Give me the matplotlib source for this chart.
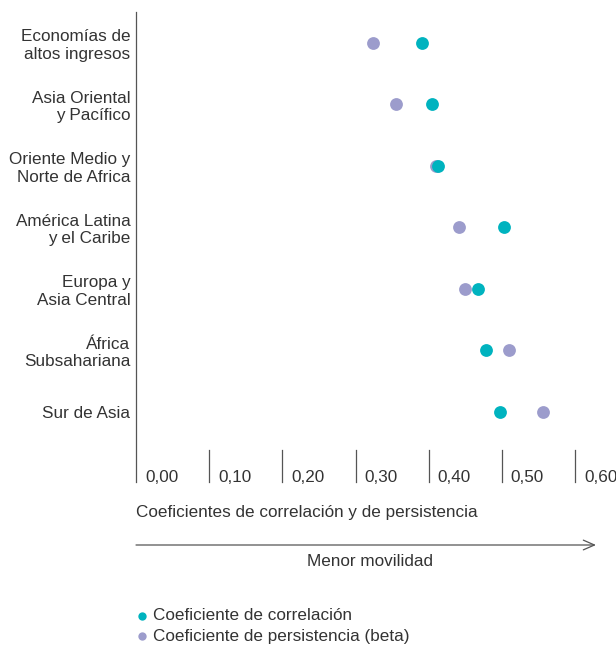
import matplotlib
matplotlib.use("Agg")
import matplotlib.pyplot as plt
import matplotlib.transforms as mtransforms

plt.rcParams['font.family'] = ['Liberation Sans', 'DejaVu Sans']

# data
regions = ['Economías de\naltos ingresos', 'Asia Oriental\ny Pacífico',
           'Oriente Medio y\nNorte de Africa', 'América Latina\ny el Caribe',
           'Europa y\nAsia Central', 'África\nSubsahariana', 'Sur de Asia']
correlacion = [0.391, 0.405, 0.413, 0.503, 0.468, 0.479, 0.497]
persistencia = [0.324, 0.355, 0.410, 0.441, 0.450, 0.510, 0.556]
xticks = [0.0, 0.1, 0.2, 0.3, 0.4, 0.5, 0.6]
xtick_labels = ['0,00', '0,10', '0,20', '0,30', '0,40', '0,50', '0,60']

teal = '#00b3bf'
purple = '#9c9ccc'
text_c = '#333333'
line_c = '#555555'
fs = 12.3

fig = plt.figure(figsize=(6.16, 6.48), dpi=100)
ax = fig.add_axes([0.2208, 0.2562, 0.7127, 0.7253])

ypos = list(range(len(regions)))
ax.scatter(persistencia, ypos, s=85, color=purple, zorder=3, linewidths=0)
ax.scatter(correlacion, ypos, s=85, color=teal, zorder=4, linewidths=0)

ax.set_xlim(0, 0.6)
ax.set_ylim(7.14, -0.5)

for s in ['top', 'right', 'bottom']:
    ax.spines[s].set_visible(False)
ax.spines['left'].set_color(line_c)
ax.spines['left'].set_linewidth(0.9)
ax.set_xticks([])
ax.set_yticks(ypos)
ax.set_yticklabels(regions, fontsize=fs, color=text_c, linespacing=1.2)
ax.tick_params(axis='y', length=0, pad=4)

# short tick lines with labels to their right
for xv, lab in zip(xticks, xtick_labels):
    if xv > 0:
        ax.axvline(xv, ymin=0, ymax=0.068, color=line_c, lw=0.9, clip_on=False)
    tr = mtransforms.offset_copy(ax.get_xaxis_transform(), fig=fig, x=9, y=0, units='dots')
    ax.text(xv, 0.0, lab, transform=tr, ha='left', va='baseline',
            fontsize=fs, color=text_c)

fig.text(136 / 616, 1 - 513 / 648, 'Coeficientes de correlación y de persistencia',
         fontsize=fs, color=text_c, ha='left', va='center')

ax.annotate('', xy=(596 / 616, 1 - 545 / 648), xytext=(136 / 616, 1 - 545 / 648),
            xycoords='figure fraction', textcoords='figure fraction',
            arrowprops=dict(arrowstyle='->,head_length=0.8,head_width=0.35',
                            color=line_c, lw=0.9, shrinkA=0, shrinkB=0))
fig.text(370 / 616, 1 - 561 / 648, 'Menor movilidad', fontsize=fs, color=text_c,
         ha='center', va='center')

# legend
for yy, col, lab in [(616, teal, 'Coeficiente de correlación'),
                     (636, purple, 'Coeficiente de persistencia (beta)')]:
    fig.add_artist(plt.Line2D([142 / 616], [1 - yy / 648], marker='o', markersize=6,
                              color=col, markeredgewidth=0, linestyle='none',
                              transform=fig.transFigure))
    fig.text(153 / 616, 1 - yy / 648, lab, fontsize=fs, color=text_c,
             ha='left', va='center')

fig.savefig('out.png', dpi=100)
